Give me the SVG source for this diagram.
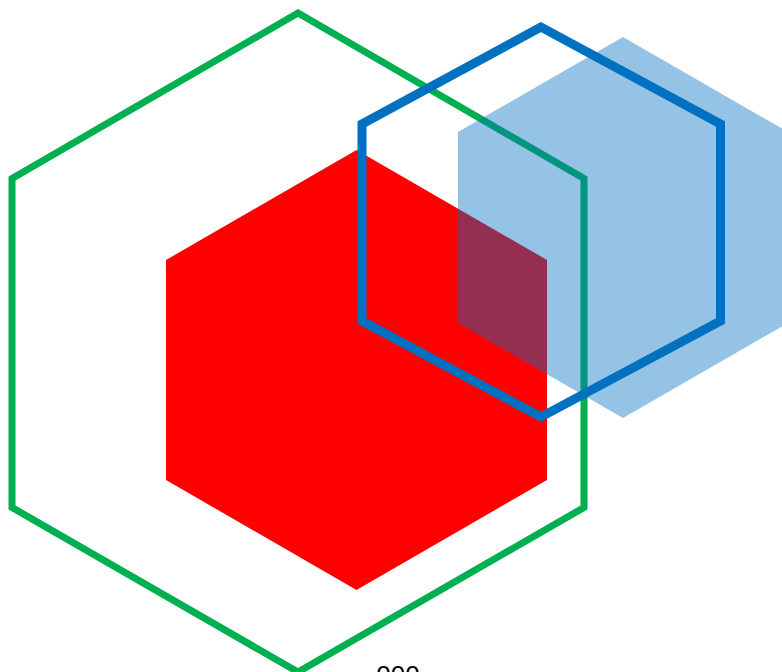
<svg xmlns="http://www.w3.org/2000/svg" width="782" height="672" viewBox="0 0 782 672">
<style>
.outline{fill:none;stroke-linejoin:miter}
.lbl{font-family:"Liberation Sans",Arial,sans-serif;font-size:26px;fill:#000;text-anchor:middle}
</style>
<rect width="782" height="672" fill="#fff"/>
<g id="green-hex"><polygon class="outline" points="298,13 12,178.5 12,507.5 298,672 584,507.5 584,178.5" stroke="#00B050" stroke-width="7"/></g>
<g id="red-hex"><polygon points="356.5,150 166,260 166,480 356.5,590 547,480 547,260" fill="#FF0000"/></g>
<g id="lightblue-hex"><polygon points="623,37 458,132 458,323 623,418 788,323 788,132" fill="#0070C0" fill-opacity="0.42"/></g>
<g id="blue-hex"><polygon class="outline" points="541,27 362,124 362,321 541,417 720.5,321 720.5,124" stroke="#0070C0" stroke-width="9"/></g>
<g id="connectors"></g>
<text class="lbl" x="398" y="684">000</text>
</svg>
